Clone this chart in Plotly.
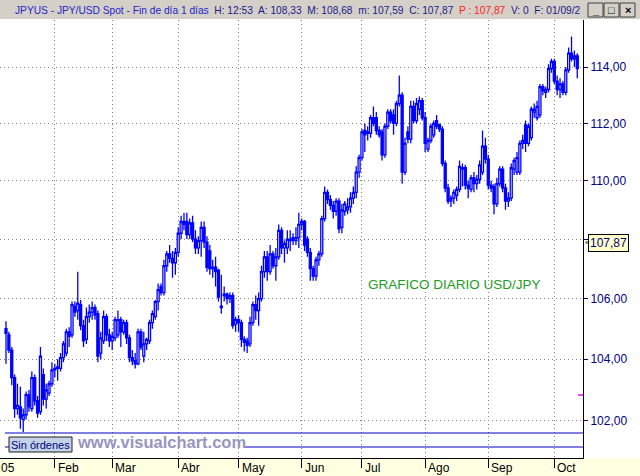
import math
import plotly.graph_objects as go

# ---------------- data (daily OHLC, JPY/USD 2005) ----------------
opens = [105.00, 104.80, 104.30, 103.40, 102.40, 102.45, 102.05, 102.20, 102.85, 102.40,
         103.40, 102.65, 102.30, 103.50, 102.70, 102.90, 103.20, 103.65, 103.70, 103.70,
         104.05, 104.20, 104.90, 104.80, 105.75, 105.60, 105.80, 105.10, 104.65, 105.40,
         105.55, 105.70, 105.50, 104.20, 104.60, 105.40, 104.80, 104.60, 104.70, 104.80,
         105.30, 104.90, 105.20, 104.70, 104.05, 103.95, 103.85, 104.90, 104.10, 104.50,
         104.60, 105.20, 105.40, 105.90, 106.40, 106.20, 107.10, 107.50, 107.35, 107.20,
         107.55, 108.20, 108.60, 108.60, 108.15, 108.55, 108.00, 107.70, 107.95, 108.40,
         107.90, 107.60, 107.00, 107.05, 106.95, 105.70, 106.10, 106.15, 106.00, 106.10,
         105.15, 105.30, 105.20, 104.65, 104.60, 104.50, 105.20, 105.80, 105.60, 106.00,
         106.90, 107.40, 106.90, 107.50, 107.10, 107.40, 108.30, 107.70, 107.70, 108.00,
         108.05, 107.95, 108.05, 108.50, 108.60, 108.00, 107.55, 107.00, 106.75, 107.30,
         107.50, 108.70, 109.60, 109.35, 109.15, 108.95, 109.30, 108.40, 108.95, 109.00,
         109.10, 109.40, 109.60, 110.30, 110.80, 111.75, 111.70, 111.65, 112.20, 112.20,
         111.75, 111.70, 110.90, 111.90, 112.40, 112.30, 112.00, 112.70, 113.00, 110.30,
         111.70, 111.45, 112.60, 112.10, 112.50, 112.80, 112.20, 111.10, 111.40, 111.60,
         112.10, 111.95, 111.80, 110.60, 109.75, 109.30, 109.40, 109.50, 109.70, 110.40,
         110.45, 109.85, 109.70, 110.10, 109.90, 110.05, 110.30, 111.20, 110.75, 109.85,
         109.80, 109.20, 109.90, 110.40, 109.75, 109.30, 109.40, 110.40, 110.30, 110.30,
         111.30, 111.95, 111.30, 111.50, 112.40, 112.20, 112.30, 113.30, 113.10, 113.20,
         113.95, 114.20, 113.50, 113.20, 113.40, 113.10, 113.90, 114.50, 114.30, 114.40]
highs = [105.25, 104.90, 104.40, 103.50, 103.20, 103.10, 102.40, 102.95, 103.00, 103.60,
         103.50, 102.80, 104.40, 103.70, 103.20, 103.30, 103.90, 103.85, 104.00, 104.20,
         104.60, 105.00, 105.05, 105.90, 105.90, 106.90, 105.95, 105.30, 105.70, 105.80,
         105.90, 105.80, 105.60, 104.90, 105.60, 105.50, 105.00, 104.90, 105.40, 105.60,
         105.40, 105.30, 105.30, 104.80, 104.30, 104.20, 105.00, 105.00, 104.90, 104.70,
         105.30, 105.60, 105.95, 106.50, 106.50, 107.30, 107.60, 107.80, 107.60, 107.70,
         108.40, 108.80, 108.90, 108.90, 108.70, 108.80, 108.30, 108.10, 108.60, 108.60,
         108.10, 107.80, 107.30, 107.40, 107.00, 106.80, 106.40, 106.20, 106.20, 106.20,
         105.40, 105.45, 105.30, 104.75, 104.70, 105.40, 105.90, 106.10, 106.20, 107.10,
         107.60, 107.60, 107.80, 107.60, 107.70, 108.50, 108.40, 107.95, 108.30, 108.30,
         108.20, 108.40, 108.90, 108.70, 108.65, 108.10, 107.70, 107.10, 107.40, 107.60,
         108.80, 109.80, 109.70, 109.50, 109.30, 109.40, 109.40, 109.20, 109.30, 109.40,
         109.60, 109.80, 110.50, 110.90, 111.80, 112.00, 111.90, 112.30, 112.60, 112.40,
         111.90, 111.80, 112.00, 112.50, 112.50, 112.50, 112.80, 113.70, 113.10, 111.50,
         111.90, 112.80, 112.80, 112.90, 112.95, 112.90, 112.40, 111.50, 112.00, 112.10,
         112.30, 112.00, 111.90, 110.70, 109.90, 109.50, 109.70, 109.80, 110.70, 110.60,
         110.55, 110.00, 110.20, 110.30, 110.20, 110.70, 111.75, 111.50, 110.90, 110.00,
         109.90, 110.10, 110.50, 110.50, 109.90, 109.60, 110.60, 110.80, 111.00, 111.40,
         111.60, 112.10, 112.00, 112.60, 112.70, 112.80, 113.40, 113.40, 113.30, 114.10,
         114.30, 114.30, 113.70, 113.60, 113.50, 114.00, 114.70, 115.10, 114.60, 114.50]
lows = [103.85, 104.20, 103.15, 102.10, 102.20, 101.75, 101.65, 102.05, 102.30, 102.30,
        102.50, 102.10, 102.20, 102.50, 102.40, 102.80, 103.10, 103.40, 103.30, 103.60,
        103.90, 104.10, 104.40, 104.70, 105.40, 105.30, 104.95, 104.40, 104.50, 105.20,
        105.30, 105.30, 103.90, 104.00, 104.50, 104.60, 104.40, 104.30, 104.60, 104.70,
        104.40, 104.80, 104.50, 103.90, 103.80, 103.70, 103.80, 104.30, 103.90, 104.30,
        104.50, 105.00, 105.30, 105.60, 106.10, 106.10, 106.90, 107.20, 106.70, 106.80,
        107.40, 108.00, 108.30, 108.00, 108.00, 107.90, 107.50, 107.50, 107.40, 107.70,
        106.90, 106.80, 106.70, 106.40, 105.90, 105.50, 105.90, 105.80, 105.85, 105.00,
        104.90, 104.90, 104.40, 104.25, 104.20, 104.40, 105.10, 105.30, 105.10, 105.90,
        106.70, 106.60, 106.80, 107.00, 106.60, 107.30, 107.50, 107.20, 107.50, 107.60,
        107.80, 107.80, 107.70, 108.30, 107.60, 107.40, 106.60, 106.60, 106.60, 107.10,
        107.40, 108.60, 109.20, 109.00, 108.70, 108.80, 108.20, 108.20, 108.80, 108.85,
        108.90, 109.20, 109.40, 110.10, 110.70, 111.00, 111.40, 111.50, 111.90, 111.60,
        111.50, 110.70, 110.80, 111.80, 112.00, 111.60, 111.90, 112.60, 109.90, 110.20,
        111.30, 111.30, 112.00, 112.00, 112.30, 112.10, 111.00, 111.00, 111.30, 111.50,
        111.80, 111.70, 110.50, 109.60, 109.20, 109.10, 109.20, 109.30, 109.60, 109.80,
        109.70, 109.40, 109.60, 109.60, 109.70, 109.90, 110.20, 110.60, 109.70, 109.60,
        108.85, 109.10, 109.80, 109.60, 109.00, 109.10, 109.30, 110.20, 110.20, 110.20,
        111.10, 111.00, 111.20, 111.40, 112.20, 112.10, 112.20, 113.00, 112.90, 113.10,
        113.80, 113.40, 113.00, 112.90, 113.00, 113.00, 113.80, 114.20, 114.00, 113.60]
closes = [104.85, 104.30, 103.40, 102.40, 102.50, 102.10, 102.20, 102.85, 102.45, 103.40,
          102.65, 102.25, 104.10, 102.70, 103.00, 103.20, 103.65, 103.70, 103.75, 104.05,
          104.50, 104.90, 104.75, 105.80, 105.55, 105.85, 105.10, 104.60, 105.40, 105.55,
          105.70, 105.45, 104.10, 104.70, 105.40, 104.80, 104.60, 104.75, 105.30, 105.30,
          104.90, 105.20, 104.70, 104.05, 103.95, 103.85, 104.90, 104.40, 104.50, 104.65,
          105.20, 105.50, 105.90, 106.30, 106.20, 107.10, 107.50, 107.35, 107.20, 107.55,
          108.20, 108.60, 108.50, 108.15, 108.55, 108.00, 107.70, 107.95, 108.40, 107.90,
          107.05, 107.00, 107.05, 106.90, 106.05, 105.75, 106.15, 106.00, 106.10, 105.10,
          105.30, 105.20, 104.65, 104.55, 104.45, 105.20, 105.80, 105.60, 106.00, 106.90,
          107.40, 106.90, 107.50, 107.10, 107.40, 108.30, 107.70, 107.85, 108.00, 107.95,
          107.95, 108.05, 108.50, 108.60, 107.80, 107.55, 107.00, 106.75, 107.30, 107.50,
          108.70, 109.60, 109.35, 109.15, 108.95, 109.30, 108.35, 109.00, 109.20, 109.10,
          109.40, 109.60, 110.30, 110.80, 111.70, 111.60, 111.65, 112.20, 112.00, 111.75,
          111.60, 110.90, 111.90, 112.40, 112.10, 112.00, 112.70, 113.00, 110.30, 111.30,
          111.45, 112.60, 112.10, 112.70, 112.80, 112.20, 111.30, 111.40, 111.90, 112.00,
          111.90, 111.80, 110.60, 109.75, 109.30, 109.40, 109.60, 109.70, 110.50, 110.45,
          109.85, 109.75, 110.10, 109.90, 110.05, 110.55, 111.20, 110.75, 109.85, 109.75,
          109.20, 109.90, 110.40, 109.75, 109.30, 109.40, 110.45, 110.70, 110.80, 111.30,
          111.40, 111.30, 111.90, 112.50, 112.50, 112.60, 113.30, 113.15, 113.20, 113.95,
          114.20, 113.50, 113.20, 113.40, 113.10, 113.90, 114.50, 114.30, 114.40, 113.95]

month_labels = ["Feb", "Mar", "Abr", "May", "Jun", "Jul", "Ago", "Sep", "Oct"]
month_start = [17, 37, 60, 81, 103, 124, 146, 168, 191]   # bar index of first day of month
price_ticks = [102, 104, 106, 108, 110, 112, 114]
price_tick_text = ["102,00", "104,00", "106,00", "", "110,00", "112,00", "114,00"]
last_price = 107.87

# ---------------- figure ----------------
W, H = 640, 476
BLUE = "#0000FF"
NAVY = "#000080"
FONT = "Arial, Liberation Sans, sans-serif"

def py(pix):  # pixel row -> paper y
    return 1 - pix / H

def px(pix):  # pixel col -> paper x
    return pix / W

bars = list(range(len(closes)))

fig = go.Figure()
fig.add_trace(go.Candlestick(
    x=bars, open=opens, high=highs, low=lows, close=closes,
    increasing=dict(line=dict(color=BLUE, width=1.3), fillcolor="white"),
    decreasing=dict(line=dict(color=BLUE, width=1.3), fillcolor=BLUE),
    whiskerwidth=0, showlegend=False, hoverinfo="skip"))

shapes = []
annotations = []

# title bar
shapes.append(dict(type="rect", xref="paper", yref="paper", x0=0, x1=1, y0=py(19), y1=1,
                   fillcolor="#D4D0C8", line=dict(width=0), layer="below"))
title_html = ('<span style="color:#2424C8">JPYUS - JPY/USD Spot - Fin de día 1 días</span>'
              '  <span style="color:#1A1A8C">H: 12:53  A: 108,33  M: 108,68  m: 107,59  C: 107,87</span>'
              '  <span style="color:#FF2020">P : 107,87</span>'
              '  <span style="color:#1A1A8C">V: 0  F: 01/09/2</span>')
annotations.append(dict(xref="paper", yref="paper", x=px(13), y=py(10), xanchor="left",
                        yanchor="middle", text=title_html, showarrow=False,
                        font=dict(family=FONT, size=10.2, color="#2424C8")))
# window buttons
for (x0, glyph) in [(588, "_"), (604, "□"), (620, "×")]:
    shapes.append(dict(type="rect", xref="paper", yref="paper", x0=px(x0), x1=px(x0 + 15),
                       y0=py(17), y1=py(3), fillcolor="#D4D0C8",
                       line=dict(color="#404040", width=1)))
    annotations.append(dict(xref="paper", yref="paper", x=px(x0 + 7.5), y=py(10),
                            xanchor="center", yanchor="middle", text="<b>" + glyph + "</b>",
                            showarrow=False, font=dict(family=FONT, size=11, color="black")))

# x axis strip (yellow)
shapes.append(dict(type="rect", xref="paper", yref="paper", x0=0, x1=1, y0=0, y1=py(458),
                   fillcolor="#FFFFE1", line=dict(width=0), layer="below"))
for lab, pos in zip(month_labels, month_start):
    annotations.append(dict(xref="x", yref="paper", x=pos, y=py(468), xanchor="left",
                            yanchor="middle", xshift=1, text=lab, showarrow=False,
                            font=dict(family=FONT, size=12, color="black")))
annotations.append(dict(xref="paper", yref="paper", x=0, y=py(468), xanchor="left",
                        yanchor="middle", xshift=-1, text="05", showarrow=False,
                        font=dict(family=FONT, size=12, color="black")))

# lower order panel lines
shapes.append(dict(type="line", xref="paper", yref="paper", x0=px(5), x1=px(583),
                   y0=py(433), y1=py(433), line=dict(color="#0000C0", width=1)))
shapes.append(dict(type="line", xref="paper", yref="paper", x0=px(5), x1=px(10),
                   y0=py(447), y1=py(447), line=dict(color="#0000C0", width=1)))
shapes.append(dict(type="line", xref="paper", yref="paper", x0=px(245), x1=px(583),
                   y0=py(447), y1=py(447), line=dict(color="#0000C0", width=1)))
shapes.append(dict(type="rect", xref="paper", yref="paper", x0=px(9), x1=px(72),
                   y0=py(452), y1=py(437), fillcolor="#C4D2E6",
                   line=dict(color="#202020", width=1)))
annotations.append(dict(xref="paper", yref="paper", x=px(40.5), y=py(444.5),
                        xanchor="center", yanchor="middle", text="Sin órdenes",
                        showarrow=False, font=dict(family=FONT, size=11, color=NAVY)))
annotations.append(dict(xref="paper", yref="paper", x=px(75), y=py(442),
                        xanchor="left", yanchor="middle", text="<b>www.visualchart.com</b>",
                        showarrow=False, font=dict(family=FONT, size=16.5, color="#9696BE")))

# chart caption
annotations.append(dict(xref="paper", yref="paper", x=px(366), y=py(284),
                        xanchor="left", yanchor="middle", text="GRAFICO DIARIO USD/JPY",
                        showarrow=False, font=dict(family=FONT, size=13.5, color="#1E9B1E")))

# last price marker on the price axis
annotations.append(dict(xref="paper", yref="y", x=px(588), y=math.log10(last_price),
                        xanchor="left", yanchor="middle",
                        text=f"{last_price:.2f}".replace(".", ","), showarrow=False,
                        bgcolor="#FFFFC8", bordercolor="black", borderwidth=1, borderpad=1,
                        font=dict(family=FONT, size=12, color=NAVY)))
annotations.append(dict(xref="paper", yref="y", x=px(583), y=math.log10(last_price),
                        xanchor="left", yanchor="middle", text="«", showarrow=False,
                        font=dict(family=FONT, size=8, color="black")))
# small magenta marker at the axis
shapes.append(dict(type="line", xref="paper", yref="paper", x0=px(578), x1=px(583),
                   y0=py(395), y1=py(395), line=dict(color="#FF40FF", width=2)))

fig.update_layout(
    width=W, height=H, margin=dict(l=0, r=0, t=0, b=0),
    paper_bgcolor="white", plot_bgcolor="white",
    boxgap=0, showlegend=False,
    shapes=shapes, annotations=annotations,
    xaxis=dict(domain=[0, 583 / W], range=[-2.09, 201.0], rangeslider=dict(visible=False),
               tickvals=month_start, showticklabels=False, ticks="outside", ticklen=9,
               tickcolor="black", tickwidth=1, showline=True, linecolor="black", linewidth=1,
               showgrid=True, gridcolor="#808080", griddash="1px,3px", gridwidth=1,
               zeroline=False, fixedrange=True),
    yaxis=dict(domain=[py(458), py(20)], type="log",
               range=[math.log10(100.82), math.log10(115.70)],
               side="right", tickvals=price_ticks, ticktext=price_tick_text,
               ticks="outside", ticklen=4, tickcolor=NAVY,
               tickfont=dict(family=FONT, size=12, color=NAVY),
               showline=True, linecolor="black", linewidth=1,
               showgrid=True, gridcolor="#808080", griddash="1px,3px", gridwidth=1,
               zeroline=False, fixedrange=True),
)

fig.write_html("out.html", config={"displayModeBar": False},
               post_script="document.body.style.margin='0px';document.body.style.overflow='hidden';")
